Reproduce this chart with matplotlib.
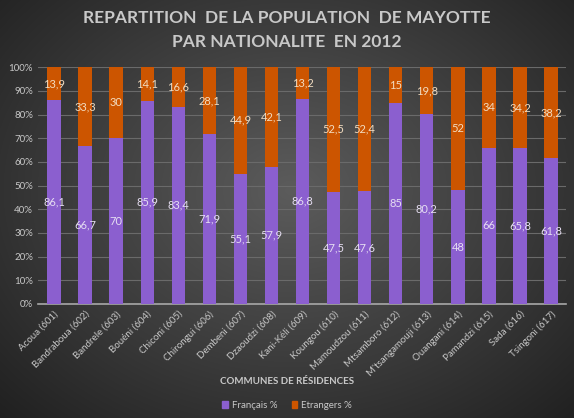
import numpy as np
import matplotlib.pyplot as plt
from matplotlib.patches import Patch

plt.rcParams['font.family'] = ['Lato', 'DejaVu Sans']

communes = ['Acoua (601)', 'Bandraboua (602)', 'Bandrele (603)', 'Bouéni (604)',
            'Chiconi (605)', 'Chirongui (606)', 'Dembeni (607)', 'Dzaoudzi (608)',
            'Kani-Kéli (609)', 'Koungou (610)', 'Mamoudzou (611)', 'Mtsamboro (612)',
            "M'tsangamouji (613)", 'Ouangani (614)', 'Pamandzi (615)', 'Sada (616)',
            'Tsingoni (617)']
francais = [86.1, 66.7, 70, 85.9, 83.4, 71.9, 55.1, 57.9, 86.8, 47.5, 47.6, 85,
            80.2, 48, 66, 65.8, 61.8]
etrangers = [13.9, 33.3, 30, 14.1, 16.6, 28.1, 44.9, 42.1, 13.2, 52.5, 52.4, 15,
             19.8, 52, 34, 34.2, 38.2]

purple = '#8b5fcf'
orange = '#cc5500'
txt = '#c8c8c8'

fig = plt.figure(figsize=(5.74, 4.18), dpi=100)

# dark radial background
bg = fig.add_axes([0, 0, 1, 1], zorder=-1)
yy, xx = np.mgrid[0:418, 0:574]
r = np.sqrt(((xx - 290) / 420.0) ** 2 + ((yy - 190) / 330.0) ** 2)
shade = np.clip(0.36 - 0.24 * r, 0.1, 0.36)
bg.imshow(np.dstack([shade, shade, shade]), aspect='auto', extent=[0, 1, 0, 1])
bg.axis('off')

ax = fig.add_axes([0.066, 0.273, 0.92, 0.566])
ax.set_facecolor('none')

x = np.arange(len(communes))
b1 = ax.bar(x, francais, width=0.43, color=purple, zorder=3)
b2 = ax.bar(x, etrangers, width=0.43, bottom=francais, color=orange, zorder=3)

fmt = lambda v: f'{v:g}'.replace('.', ',')
ax.bar_label(b1, labels=[fmt(v) for v in francais], label_type='center',
             color='#e6def2', fontsize=8)
ax.bar_label(b2, labels=[fmt(v) for v in etrangers], label_type='center',
             color='#f2dcc0', fontsize=8)

ax.set_xlim(-0.52, 16.48)
ax.set_ylim(0, 100)
ax.set_yticks(range(0, 101, 10))
ax.set_yticklabels([f'{v}%' for v in range(0, 101, 10)])
ax.yaxis.grid(True, color='#6a6a6a', linewidth=0.8, zorder=0)
ax.set_xticks(x)
ax.set_xticklabels(communes, rotation=45, ha='right', rotation_mode='anchor')
ax.tick_params(axis='both', length=0, colors=txt, labelsize=7)
ax.tick_params(axis='x', pad=4)
for s in ['top', 'right', 'left']:
    ax.spines[s].set_visible(False)
ax.spines['bottom'].set_color('#a8a8a8')
ax.spines['bottom'].set_linewidth(1.2)

fig.text(0.5, 0.957, 'REPARTITION  DE LA POPULATION  DE MAYOTTE', ha='center',
         va='center', color=txt, fontsize=12.5, fontweight='bold')
fig.text(0.5, 0.9, 'PAR NATIONALITE  EN 2012', ha='center', va='center',
         color=txt, fontsize=12.5, fontweight='bold')

fig.text(0.5, 0.088, 'COMMUNES DE RÉSIDENCES', ha='center', va='center',
         color=txt, fontsize=7, fontweight='bold')

handles = [Patch(color=purple, label='Français %'), Patch(color=orange, label='Etrangers %')]
fig.legend(handles=handles, loc='center', bbox_to_anchor=(0.5, 0.03), ncol=2,
           frameon=False, fontsize=7, labelcolor=txt, handlelength=0.6,
           handleheight=0.6, handletextpad=0.4, columnspacing=1.5)

fig.savefig('out.png', dpi=100)
